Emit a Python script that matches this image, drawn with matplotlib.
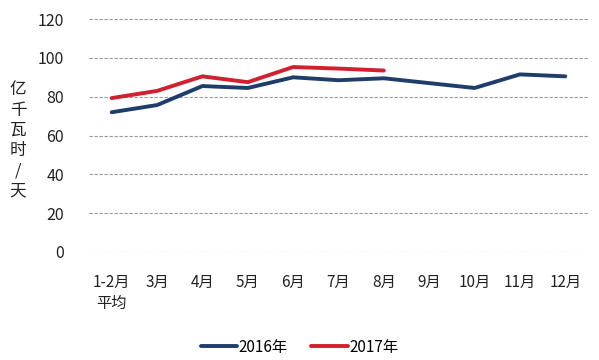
import matplotlib.pyplot as plt

plt.rcParams['font.family'] = ['Noto Sans CJK SC', 'DejaVu Sans']

months = ["1-2月\n平均", "3月", "4月", "5月", "6月", "7月", "8月", "9月", "10月", "11月", "12月"]
y2016 = [72, 75.7, 85.5, 84.5, 90, 88.5, 89.5, 87, 84.5, 91.5, 90.5]
y2017 = [79.3, 83, 90.5, 87.5, 95.3, 94.5, 93.5]
yticks = [0, 20, 40, 60, 80, 100, 120]

fig = plt.figure(figsize=(5.99, 3.6), dpi=100)
ax = fig.add_axes([0.1486, 0.3, 0.833, 0.647])

x16 = list(range(len(y2016)))
x17 = list(range(len(y2017)))
ax.plot(x16, y2016, color='#1f3d6b', lw=2.8, label='2016年', solid_capstyle='round')
ax.plot(x17, y2017, color='#d1202f', lw=2.8, label='2017年', solid_capstyle='round')

ax.set_xlim(-0.5, len(months) - 0.5)
ax.set_ylim(0, 120)
ax.set_yticks(yticks)
ax.set_xticks(x16)
ax.set_xticklabels(months, fontsize=11, color='#222222', linespacing=1.3, va='top')
ax.tick_params(axis='y', labelsize=11.5, colors='#222222', length=0, pad=18)
ax.tick_params(axis='x', length=0, pad=16)
ax.yaxis.grid(True, linestyle=(0, (3, 1.5)), color='#999999', lw=0.8)
ax.set_axisbelow(True)
for s in ax.spines.values():
    s.set_visible(False)

fig.text(0.03, 0.61, "\n".join("亿千瓦时/天"), fontsize=12, ha='center', va='center',
         linespacing=1.25, color='#222222')

fig.legend(loc='center', bbox_to_anchor=(0.5, 0.036), ncol=2, frameon=False,
           fontsize=11, handlelength=2.4, columnspacing=1.5, handletextpad=0.1)

fig.savefig('out.png', dpi=100)
